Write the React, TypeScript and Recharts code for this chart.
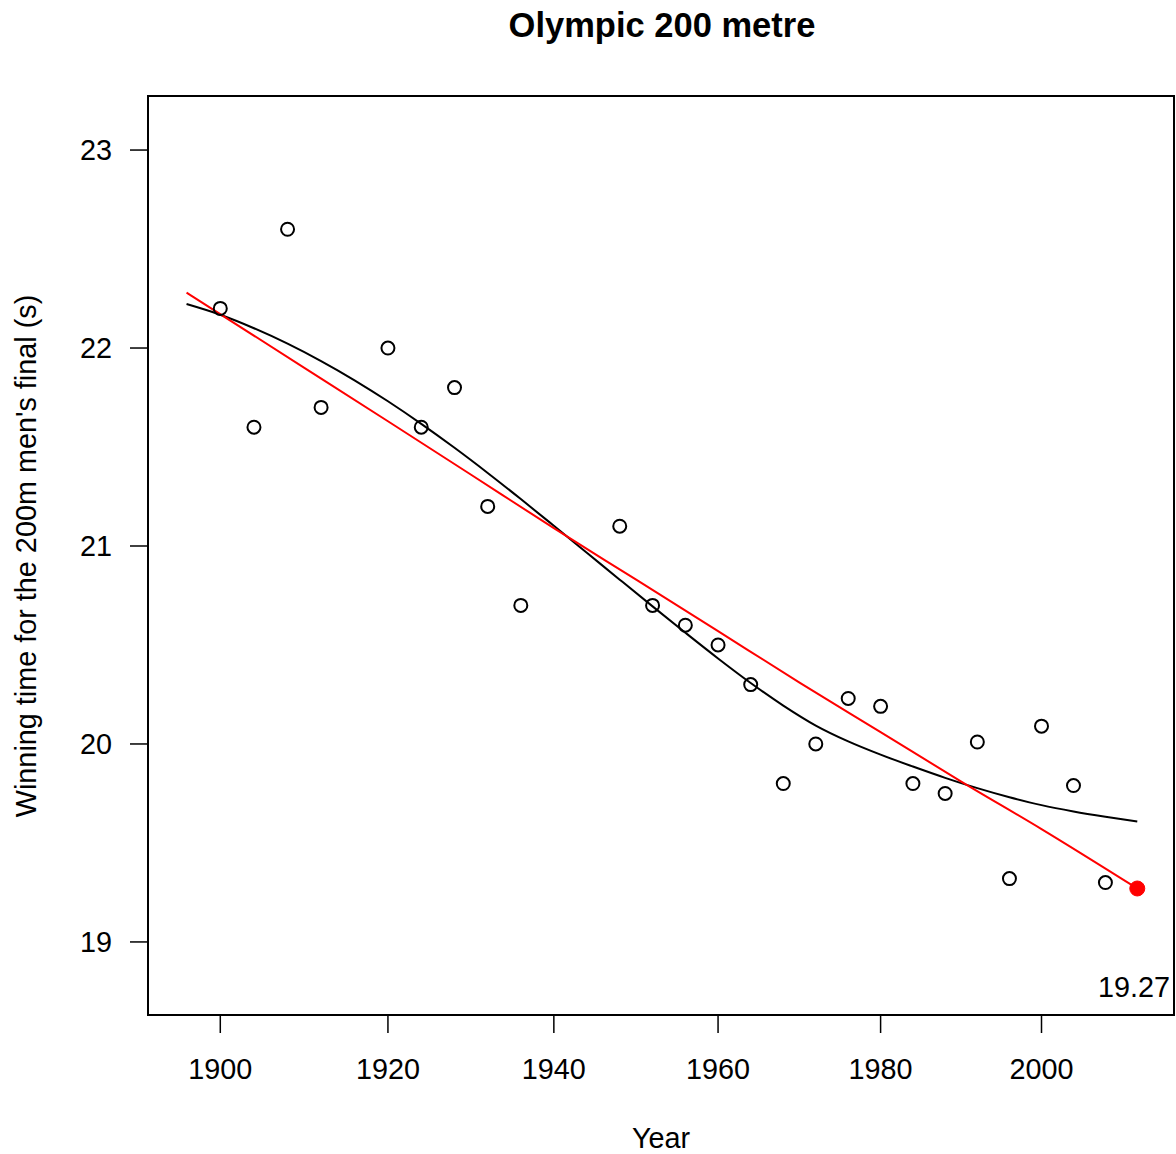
import React from "react";
import { ComposedChart, Scatter, Line, XAxis, YAxis, ReferenceArea } from "recharts";

// Olympic men's 200m winning times
const years = [1900, 1904, 1908, 1912, 1920, 1924, 1928, 1932, 1936, 1948, 1952, 1956, 1960, 1964, 1968, 1972, 1976, 1980, 1984, 1988, 1992, 1996, 2000, 2004, 2008];
const times = [22.2, 21.6, 22.6, 21.7, 22.0, 21.6, 21.8, 21.2, 20.7, 21.1, 20.7, 20.6, 20.5, 20.3, 19.8, 20.0, 20.23, 20.19, 19.8, 19.75, 20.01, 19.32, 20.09, 19.79, 19.3];

// red fitted line
const fitYears = [1896, 1910, 1920, 1930, 1940, 1950, 1960, 1970, 1980, 1990, 2000, 2012];
const fitTimes = [22.28, 21.9, 21.63, 21.36, 21.09, 20.83, 20.57, 20.31, 20.06, 19.81, 19.57, 19.27];

// smooth (black) fitted curve
const curveYears = [1896, 1900, 1904, 1908, 1912, 1916, 1920, 1924, 1928, 1932, 1936, 1940, 1944, 1948, 1952, 1956, 1960, 1964, 1968, 1972, 1976, 1980, 1984, 1988, 1992, 1996, 2000, 2004, 2008, 2012];
const curveTimes = [22.222, 22.168, 22.1, 22.022, 21.934, 21.837, 21.731, 21.617, 21.496, 21.369, 21.237, 21.102, 20.966, 20.83, 20.695, 20.562, 20.432, 20.308, 20.194, 20.093, 20.013, 19.946, 19.886, 19.829, 19.777, 19.731, 19.691, 19.659, 19.632, 19.608];

// predicted 2012 value
const predYears = [2012];
const predTimes = [19.27];
const predLabel = "19.27";

const xTicks = [1900, 1920, 1940, 1960, 1980, 2000];
const yTicks = [19, 20, 21, 22, 23];
const xDomain: [number, number] = [1891.44, 2016.62];
const yDomain: [number, number] = [18.631, 23.273];

const title = "Olympic 200 metre";
const xTitle = "Year";
const yTitle = "Winning time for the 200m men's final (s)";

const pointsData = years.map((y, i) => ({ year: y, time: times[i] }));
const fitData = fitYears.map((y, i) => ({ year: y, time: fitTimes[i] }));
const curveData = curveYears.map((y, i) => ({ year: y, time: curveTimes[i] }));
const predData = predYears.map((y, i) => ({ year: y, time: predTimes[i] }));

const FONT = "'Liberation Sans', Arial, Helvetica, sans-serif";
const W = 1176;
const H = 1154;

const OpenCircle = (props: any) => (
  <circle cx={props.cx} cy={props.cy} r={6.5} fill="none" stroke="#000" strokeWidth={2} />
);
const RedDot = (props: any) => (
  <circle cx={props.cx} cy={props.cy} r={7.5} fill="#ff0000" stroke="#ff0000" strokeWidth={1} />
);

export default function App() {
  const tickStyle = { fontSize: 28.8, fill: "#000", fontFamily: FONT };
  return (
    <div style={{ position: "absolute", left: 0, top: 0, width: W, height: H, background: "#fff" }}>
      <ComposedChart
        width={W}
        height={H}
        margin={{ top: 96, right: 2, bottom: 0, left: 0 }}
        style={{ fontFamily: FONT }}
      >
        <XAxis
          dataKey="year"
          type="number"
          scale="log"
          domain={xDomain}
          allowDataOverflow
          ticks={xTicks}
          interval={0}
          height={139}
          axisLine={false}
          tickSize={18}
          tickMargin={26}
          tickLine={{ stroke: "#000", strokeWidth: 1.5 }}
          tick={tickStyle}
        />
        <YAxis
          dataKey="time"
          type="number"
          domain={yDomain}
          allowDataOverflow
          ticks={yTicks}
          interval={0}
          width={148}
          axisLine={false}
          tickSize={18}
          tickMargin={18}
          tickLine={{ stroke: "#000", strokeWidth: 1.5 }}
          tick={tickStyle}
        />
        <ReferenceArea
          x1={xDomain[0]}
          x2={xDomain[1]}
          y1={yDomain[0]}
          y2={yDomain[1]}
          fill="none"
          fillOpacity={0}
          stroke="#000"
          strokeWidth={2}
          ifOverflow="visible"
        />
        <Scatter data={pointsData} dataKey="time" shape={OpenCircle} isAnimationActive={false} />
        <Line data={curveData} dataKey="time" type="monotone" stroke="#000" strokeWidth={2} dot={false} activeDot={false} isAnimationActive={false} />
        <Line data={fitData} dataKey="time" type="monotone" stroke="#ff0000" strokeWidth={2} dot={false} activeDot={false} isAnimationActive={false} />
        <Scatter data={predData} dataKey="time" shape={RedDot} isAnimationActive={false} />
      </ComposedChart>
      <svg
        width={W}
        height={H}
        style={{ position: "absolute", left: 0, top: 0, pointerEvents: "none" }}
        fontFamily={FONT}
      >
        <text x={662} y={36.5} textAnchor="middle" fontSize={34.5} fontWeight="bold" fill="#000">
          {title}
        </text>
        <text x={661} y={1148} textAnchor="middle" fontSize={28.8} fill="#000">
          {xTitle}
        </text>
        <text
          x={0}
          y={0}
          transform="translate(36 556) rotate(-90)"
          textAnchor="middle"
          fontSize={28.8}
          fill="#000"
        >
          {yTitle}
        </text>
        <text x={1170} y={997} textAnchor="end" fontSize={28.8} fill="#000">
          {predLabel}
        </text>
      </svg>
    </div>
  );
}
